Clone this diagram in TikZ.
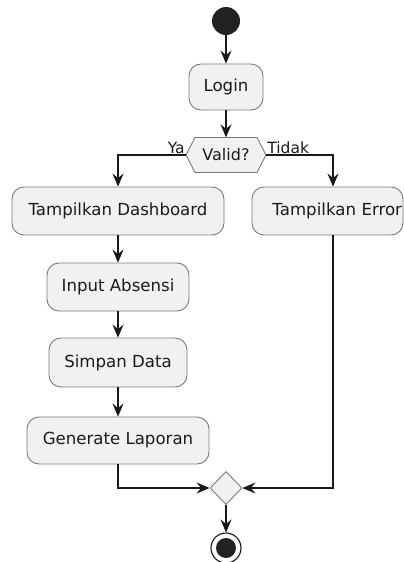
\documentclass[tikz,border=0pt]{standalone}
\usepackage{fontspec}
\setmainfont{DejaVu Sans}
\usetikzlibrary{arrows.meta,shapes.geometric}
\definecolor{boxfill}{HTML}{F1F1F1}
\definecolor{boxline}{HTML}{7A7A7A}
\definecolor{linecol}{HTML}{181818}
\definecolor{dotfill}{HTML}{222222}
\definecolor{textcol}{HTML}{1A1A1A}
\tikzset{
  actbox/.style={draw=boxline, fill=boxfill, line width=0.9pt, rounded corners=12pt,
    inner sep=0pt, minimum height=48pt, font=\fontsize{16.6}{19}\selectfont, text=textcol},
  flow/.style={draw=linecol, line width=1.1pt,
    -{Stealth[length=13pt,width=11pt,inset=4.5pt]}},
  guardlabel/.style={font=\fontsize{15.5}{18}\selectfont, inner sep=1pt, text=textcol},
}
\begin{document}
\begin{tikzpicture}[x=1pt,y=-1pt]
\useasboundingbox (0,0) rectangle (404,562);

% start node
\node[circle, fill=dotfill, minimum size=28pt, inner sep=0pt] (start) at (226,21) {};

% first activity
\node[actbox, minimum width=74pt, minimum height=46pt] (login) at (226,87) {Login};

% decision
\path[draw=boxline, fill=boxfill, line width=0.9pt]
  (186,155) -- (195,137.5) -- (257,137.5) -- (266,155) -- (257,172.5) -- (195,172.5) -- cycle;
\node[minimum width=80pt, minimum height=35pt, inner sep=0pt, text=textcol,
      font=\fontsize{16}{18}\selectfont] (valid) at (226,155) {Valid?};

% branch activities
\node[actbox, minimum width=212pt] (dash) at (118,211) {Tampilkan Dashboard};
\node[actbox, text width=149pt, inner xsep=1pt, align=right] (err) at (327.5,211) {Tampilkan Error};
\node[actbox, minimum width=142pt] (input) at (118,287) {Input Absensi};
\node[actbox, minimum width=138pt, minimum height=49pt] (simpan) at (118,362.5) {Simpan Data};
\node[actbox, minimum width=182pt, minimum height=47pt] (gen) at (118,440.5) {Generate Laporan};

% merge
\node[diamond, draw=boxline, fill=boxfill, line width=0.9pt, inner sep=0pt,
      minimum width=32pt, minimum height=33pt] (merge) at (226,488) {};

% end node
\node[circle, draw=linecol, fill=white, line width=1.1pt, minimum size=30pt, inner sep=0pt,
      path picture={\fill[dotfill] (path picture bounding box.center) circle (10pt);}]
      (stop) at (226,548) {};

% connectors
\draw[flow] (start) -- (login);
\draw[flow] (login) -- (valid);
\draw[flow] (valid.west) -| (dash.north);
\draw[flow] (valid.east) -| ([xshift=5.5pt]err.north);
\node[guardlabel, anchor=south east] at (valid.west) {Ya};
\node[guardlabel, anchor=south west] at (valid.east) {Tidak};
\draw[flow] (dash) -- (input);
\draw[flow] (input) -- (simpan);
\draw[flow] (simpan) -- (gen);
\draw[flow] (gen.south) |- (merge.west);
\draw[flow] ([xshift=5.5pt]err.south) |- (merge.east);
\draw[flow] (merge) -- (stop);
\end{tikzpicture}
\end{document}
